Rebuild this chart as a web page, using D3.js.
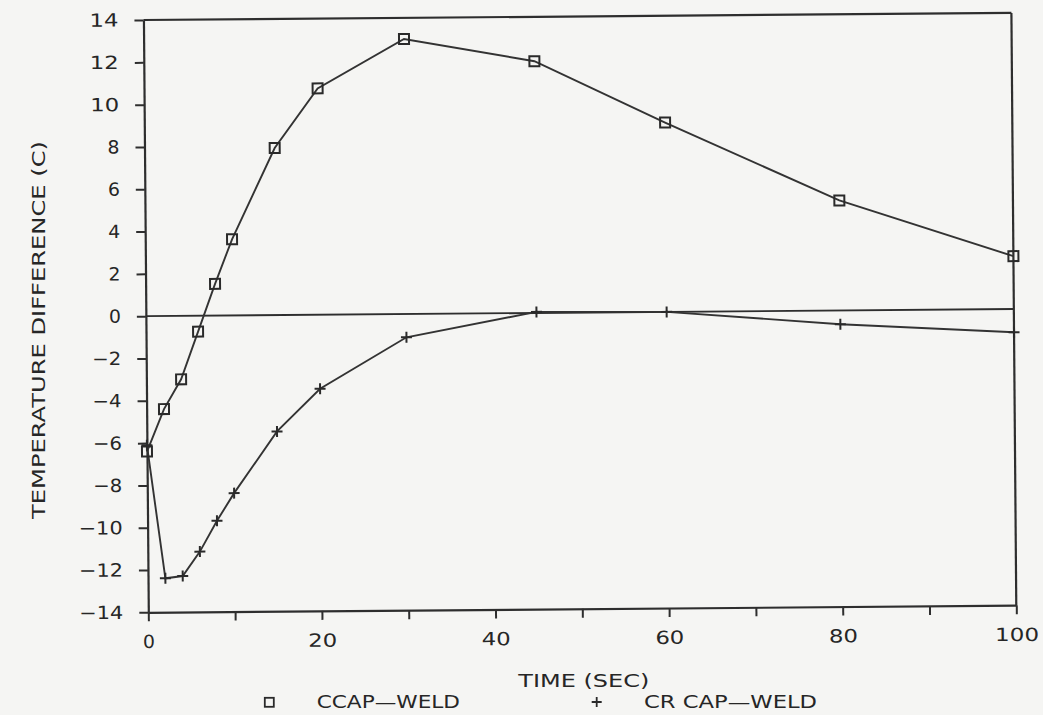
<!DOCTYPE html>
<html>
<head>
<meta charset="utf-8">
<script src="https://cdn.jsdelivr.net/npm/d3@7/dist/d3.min.js"></script>
<style>
  html, body { margin: 0; padding: 0; background: #f5f5f3; }
  svg { display: block; }
  text { font-family: "DejaVu Sans", "Liberation Sans", Arial, sans-serif; fill: #262626; }
</style>
</head>
<body>
<script>
// ---- data ----
const times = [0, 2, 4, 6, 8, 10, 15, 20, 30, 45, 60, 80, 100];
const ccapWeld = [-6.4, -4.4, -3.0, -0.75, 1.5, 3.6, 7.9, 10.7, 13.0, 11.9, 8.95, 5.2, 2.5];
const crCapWeld = [-6.1, -12.4, -12.3, -11.15, -9.7, -8.4, -5.5, -3.5, -1.1, 0.05, 0.0, -0.65, -1.1];
const seriesNames = ["CCAP\u2014WELD", "CR CAP\u2014WELD"];
const yTicks = [-14, -12, -10, -8, -6, -4, -2, 0, 2, 4, 6, 8, 10, 12, 14];
const xTicks = [0, 10, 20, 30, 40, 50, 60, 70, 80, 90, 100];
const xLabelTicks = [0, 20, 40, 60, 80, 100];
const xTitle = "TIME (SEC)";
const yTitle = "TEMPERATURE DIFFERENCE (C)";

const W = 1043, H = 715;
const ox = 148.3, oy = 612.3, fw = 868, fh = 592.3, tilt = -0.47;
const ink = "#2e2e2e";
const font = '"DejaVu Sans", "Liberation Sans", Arial, sans-serif';

const svg = d3.select("body").append("svg").attr("width", W).attr("height", H);
svg.append("rect").attr("width", W).attr("height", H).attr("fill", "#f5f5f3");

const x = d3.scaleLinear().domain([0, 100]).range([0, fw]);
const y = d3.scaleLinear().domain([-14, 14]).range([0, -fh]);

const g = svg.append("g").attr("transform", `translate(${ox},${oy}) rotate(${tilt})`);

const fmt = d => d < 0 ? "\u2212" + Math.abs(d) : String(d);
const labLen = s => s.length === 1 ? 12 : 15 * s.length - 1;

// y axis
const yAxis = g.append("g").call(
  d3.axisLeft(y).tickValues(yTicks).tickSize(9).tickSizeOuter(0).tickPadding(16).tickFormat(fmt)
);
// x axis
const xAxis = g.append("g").call(
  d3.axisBottom(x).tickValues(xTicks).tickSize(9).tickSizeOuter(0).tickPadding(14)
    .tickFormat(d => xLabelTicks.includes(d) ? fmt(d) : "")
);
[yAxis, xAxis].forEach(a => {
  a.select(".domain").attr("stroke", ink).attr("stroke-width", 2.2);
  a.selectAll(".tick line").attr("stroke", ink).attr("stroke-width", 2);
  a.selectAll(".tick text")
    .attr("font-size", 18)
    .attr("fill", "#262626")
    .style("font-family", font)
    .each(function () {
      const t = d3.select(this).text();
      if (t) d3.select(this).attr("textLength", labLen(t)).attr("lengthAdjust", "spacingAndGlyphs");
    });
});

// frame top & right
g.append("line").attr("x1", x(0)).attr("x2", x(100)).attr("y1", y(14)).attr("y2", y(14))
  .attr("stroke", ink).attr("stroke-width", 2.2);
g.append("line").attr("x1", x(100)).attr("x2", x(100)).attr("y1", y(14)).attr("y2", y(-14))
  .attr("stroke", ink).attr("stroke-width", 2.2);
// zero line
g.append("line").attr("x1", x(0)).attr("x2", x(100)).attr("y1", y(0)).attr("y2", y(0))
  .attr("stroke", ink).attr("stroke-width", 1.9);

const line = d3.line().x(d => x(d[0])).y(d => y(d[1]));
const s1 = times.map((t, i) => [t, ccapWeld[i]]);
const s2 = times.map((t, i) => [t, crCapWeld[i]]);

g.append("path").datum(s1).attr("d", line).attr("fill", "none").attr("stroke", "#333").attr("stroke-width", 1.9);
g.append("path").datum(s2).attr("d", line).attr("fill", "none").attr("stroke", "#333").attr("stroke-width", 1.9);

const sq = 10;
g.selectAll(".sq").data(s1).enter().append("rect")
  .attr("x", d => x(d[0]) - sq / 2).attr("y", d => y(d[1]) - sq / 2)
  .attr("width", sq).attr("height", sq)
  .attr("fill", "none").attr("stroke", "#2a2a2a").attr("stroke-width", 2);

const pl = 5.5;
g.selectAll(".pl").data(s2).enter().append("path")
  .attr("d", d => `M${x(d[0]) - pl},${y(d[1])}H${x(d[0]) + pl}M${x(d[0])},${y(d[1]) - pl}V${y(d[1]) + pl}`)
  .attr("stroke", "#2a2a2a").attr("stroke-width", 2);

// axis titles
svg.append("text").attr("x", 518.3).attr("y", 686.7)
  .attr("font-size", 18).attr("textLength", 131).attr("lengthAdjust", "spacingAndGlyphs")
  .text(xTitle);
svg.append("text")
  .attr("transform", "translate(45,330) rotate(-90)")
  .attr("text-anchor", "middle")
  .attr("font-size", 18).attr("textLength", 378).attr("lengthAdjust", "spacingAndGlyphs")
  .text(yTitle);

// legend
svg.append("rect").attr("x", 269.3 - 4.5).attr("y", 702.3 - 4.5).attr("width", 9).attr("height", 9)
  .attr("fill", "none").attr("stroke", "#2a2a2a").attr("stroke-width", 1.8);
svg.append("text").attr("x", 316.7).attr("y", 708.3).attr("font-size", 18)
  .attr("textLength", 143.3).attr("lengthAdjust", "spacingAndGlyphs").text(seriesNames[0]);
svg.append("path")
  .attr("d", `M${596.7 - 5},702H${596.7 + 5}M596.7,${702 - 5}V${702 + 5}`)
  .attr("stroke", "#2a2a2a").attr("stroke-width", 1.8);
svg.append("text").attr("x", 644).attr("y", 708.3).attr("font-size", 18)
  .attr("textLength", 173).attr("lengthAdjust", "spacingAndGlyphs").text(seriesNames[1]);
</script>
</body>
</html>
